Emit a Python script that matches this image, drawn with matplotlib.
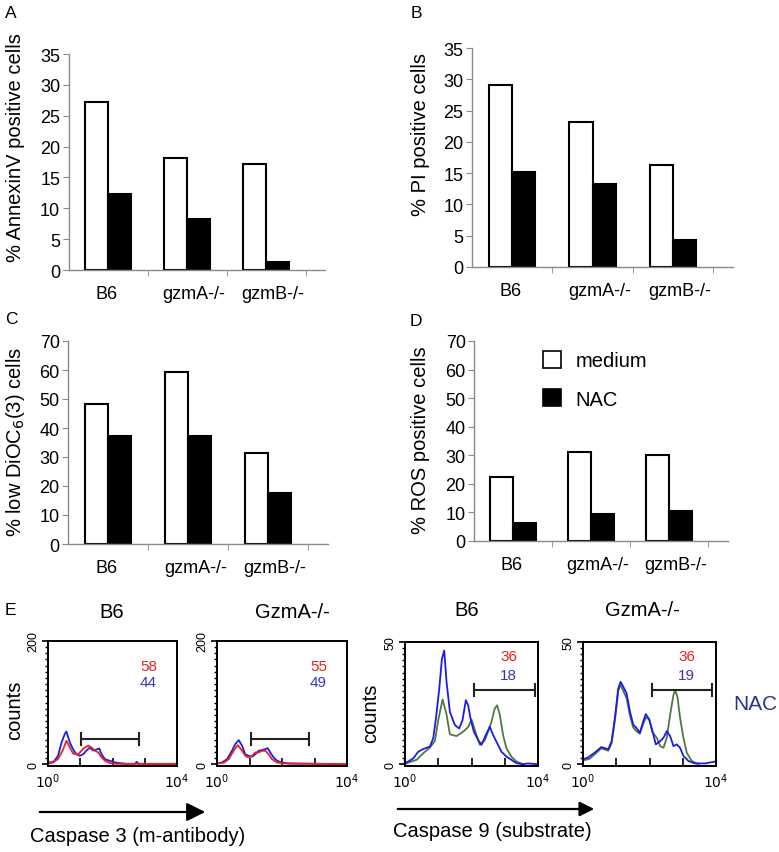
import numpy as np
import matplotlib
matplotlib.use("Agg")
import matplotlib.pyplot as plt
from matplotlib.patches import Patch
from matplotlib.ticker import MultipleLocator, LogLocator, NullFormatter

plt.rcParams["font.family"] = ["Liberation Sans", "DejaVu Sans"]

# ==========================
# Data: bar panels A-D
# ==========================
groups = ["B6", "gzmA-/-", "gzmB-/-"]

annexin_medium = [27.3, 18.1, 17.2]
annexin_nac = [12.3, 8.3, 1.25]

pi_medium = [29.1, 23.1, 16.3]
pi_nac = [15.2, 13.2, 4.3]

dioc_medium = [48.3, 59.4, 31.5]
dioc_nac = [37.3, 37.3, 17.6]

ros_medium = [22.3, 31.3, 30.2]
ros_nac = [6.3, 9.45, 10.4]

# ==========================
# Data: flow histograms (x in log10 decades, y in counts)
# ==========================
c3_b6_blue_x = [0.0, 0.16, 0.31, 0.42, 0.52, 0.57, 0.68, 0.78, 0.88, 0.99, 1.09, 1.19, 1.30,
                1.40, 1.51, 1.59, 1.66, 1.77, 1.92, 2.08, 2.23, 2.44, 2.70, 2.75, 2.81, 4.0]
c3_b6_blue_y = [1.6, 2.7, 13.6, 35, 49, 53, 35, 24, 16, 13.6, 16, 22, 27,
                22, 24, 25.5, 16, 8, 5.4, 2.7, 1.6, 0.5, 0.5, 3.8, 0.5, 0]
c3_b6_red_x = [0.0, 0.16, 0.31, 0.47, 0.57, 0.68, 0.78, 0.94, 1.04, 1.14, 1.25, 1.35,
               1.45, 1.56, 1.66, 1.77, 1.92, 2.13, 4.0]
c3_b6_red_y = [2.7, 3.8, 8, 24, 38, 27, 17, 16, 22, 27, 30, 27,
               22, 19, 11, 5.4, 1.6, 0.5, 0.5]

c3_ko_blue_x = [0.0, 0.15, 0.31, 0.46, 0.56, 0.67, 0.77, 0.87, 0.97, 1.08, 1.18, 1.28,
                1.38, 1.49, 1.56, 1.64, 1.74, 1.85, 2.0, 2.21, 4.0]
c3_ko_blue_y = [1.1, 2.7, 8.1, 21.7, 32.5, 39, 30, 16, 13.6, 12, 16, 21.7,
                22.8, 24.4, 26, 19, 11, 5.4, 2.7, 1.1, 0]
c3_ko_red_x = [0.0, 0.21, 0.36, 0.51, 0.64, 0.77, 0.87, 0.97, 1.08, 1.18, 1.28, 1.38,
               1.49, 1.59, 1.69, 1.85, 2.05, 4.0]
c3_ko_red_y = [1.1, 2.2, 8.1, 21.7, 31, 21.7, 13.6, 11, 13.6, 19, 19, 21.7,
               21.7, 16, 8.1, 2.7, 1.1, 0]

c9_b6_blue_x = [0.0, 0.10, 0.25, 0.40, 0.55, 0.75, 0.85, 0.93, 1.03, 1.11, 1.18, 1.25, 1.35,
                1.50, 1.63, 1.73, 1.83, 1.90, 1.97, 2.07, 2.20, 2.30, 2.43, 2.55, 2.65,
                2.75, 2.90, 3.05, 3.20, 3.35, 3.55, 3.70, 3.95]
c9_b6_blue_y = [0.4, 1.1, 2.4, 5.1, 6.2, 7.2, 10.6, 18.7, 30.9, 43, 46.5, 33.6, 21.4,
                16, 14.6, 18, 26.2, 24.1, 18.7, 13.3, 9.9, 7.9, 11.9, 15.3, 11.9,
                9.2, 5.1, 3.1, 1.8, 0.4, 0, 0.3, 0]
c9_b6_green_x = [0.05, 0.35, 0.55, 0.75, 0.90, 1.0, 1.13, 1.25, 1.35, 1.55, 1.75, 1.90, 2.0,
                 2.15, 2.25, 2.40, 2.50, 2.60, 2.70, 2.77, 2.85, 2.95, 3.05, 3.20, 3.35, 3.55]
c9_b6_green_y = [0.4, 1.8, 4.5, 6.8, 9.5, 18, 26.5, 20.3, 12.2, 11.5, 13.3, 15.2, 18.3,
                 11.9, 7.9, 9.8, 13.3, 17.3, 22.8, 24.1, 20.3, 11.9, 6.5, 3.1, 1.1, 0]

c9_ko_blue_x = [0.0, 0.15, 0.35, 0.55, 0.76, 0.86, 0.96, 1.06, 1.13, 1.21, 1.31, 1.41, 1.51,
                1.61, 1.71, 1.81, 1.89, 1.99, 2.09, 2.19, 2.32, 2.42, 2.52, 2.62, 2.72,
                2.82, 2.92, 3.02, 3.17, 3.37, 3.68, 3.98]
c9_ko_blue_y = [2.0, 2.7, 4.7, 7.0, 6.1, 9.4, 18.9, 31, 33.7, 31.7, 29, 21.6, 16.2,
                14.8, 12.8, 17.5, 20.5, 18.3, 13.5, 8.1, 9.4, 10.8, 13.5, 11.5, 7.4,
                8.1, 6.7, 3.4, 1.3, 0.3, 0.3, 1.1]
c9_ko_green_x = [0.0, 0.2, 0.35, 0.55, 0.76, 0.86, 0.96, 1.06, 1.13, 1.21, 1.31, 1.41, 1.51,
                 1.61, 1.71, 1.81, 1.89, 1.99, 2.09, 2.22, 2.32, 2.42, 2.52, 2.62, 2.72,
                 2.77, 2.84, 2.92, 3.02, 3.12, 3.27, 3.47]
c9_ko_green_y = [1.5, 2.2, 4.0, 6.5, 5.5, 8.5, 18, 30, 32.5, 30, 27, 20, 15,
                 13.5, 12.5, 16.5, 19, 18.5, 13, 10.8, 7.4, 6.7, 10.8, 20.2, 28.3,
                 30.3, 27.6, 18.9, 10.8, 4.7, 1.3, 0]

# gate markers (decades start, end, height in counts) and percentages
c3_gates = [(1.03, 2.83, 40.6), (1.05, 2.84, 40.6)]
c9_gates = [(2.07, 3.90, 30.2), (2.07, 3.88, 30.3)]
c3_pct = [("58", "44"), ("55", "49")]
c9_pct = [("36", "18"), ("36", "19")]

BLUE = "#1c1ce6"
RED = "#e8231f"
GREEN = "#4f7a3d"

# ==========================
# Figure layout helpers (pixel boxes)
# ==========================
W, H = 779, 853
fig = plt.figure(figsize=(W / 100, H / 100), dpi=100)


def box(left, top, right, bottom):
    return [left / W, 1 - bottom / H, (right - left) / W, (bottom - top) / H]


def ftext(x, y, s, **kw):
    fig.text(x / W, 1 - y / H, s, **kw)


def bar_panel(center0, spacing, top, bottom, medium, nac, ymax, step):
    left = center0 - 0.5 * spacing
    right = left + 3.25 * spacing
    ax = fig.add_axes(box(left, top, right, bottom))
    x = np.arange(len(groups))
    w = 0.29
    ax.bar(x - w / 2, medium, w, color="white", edgecolor="black", linewidth=1.5)
    ax.bar(x + w / 2, nac, w, color="black", edgecolor="black", linewidth=1.5)
    ax.set_xlim(-0.5, 2.75)
    ax.set_ylim(0, ymax)
    ax.set_yticks(np.arange(0, ymax + 1, step))
    ax.set_xticks([-0.02, 1.09, 2.08])
    ax.set_xticklabels(groups)
    ax.set_xticks([0.5, 1.5, 2.5], minor=True)
    for s in ["top", "right"]:
        ax.spines[s].set_visible(False)
    for s in ["left", "bottom"]:
        ax.spines[s].set_color("#8a8a8a")
        ax.spines[s].set_linewidth(1.0)
    ax.tick_params(axis="y", length=4, color="#8a8a8a", labelsize=13, pad=2)
    ax.tick_params(axis="x", which="major", length=0, labelsize=13, pad=11)
    ax.tick_params(axis="x", which="minor", length=4, color="#8a8a8a")
    return ax


# ==========================
# Panels A-D
# ==========================
bar_panel(108, 79, 55, 271, annexin_medium, annexin_nac, 35, 5)
bar_panel(512, 80.5, 49, 268, pi_medium, pi_nac, 35, 5)
bar_panel(108, 80, 342, 545, dioc_medium, dioc_nac, 70, 10)
axd = bar_panel(513, 78, 342, 542, ros_medium, ros_nac, 70, 10)

handles = [Patch(facecolor="white", edgecolor="black", linewidth=1.2),
           Patch(facecolor="black", edgecolor="black", linewidth=1.2)]
fig.legend(handles, ["medium", "NAC"], loc="upper left",
           bbox_to_anchor=(543 / W, 1 - 352 / H), frameon=False, fontsize=14.5,
           handlelength=0.9, handleheight=0.9, handletextpad=0.7,
           labelspacing=0.95, borderpad=0, borderaxespad=0)

ftext(16, 148, "% AnnexinV positive cells", rotation=90, ha="center", va="center", fontsize=14.5)
ftext(420, 135, "% PI positive cells", rotation=90, ha="center", va="center", fontsize=14.5)
ftext(16, 442, "% low DiOC$_6$(3) cells", rotation=90, ha="center", va="center", fontsize=14.5)
ftext(420, 440, "% ROS positive cells", rotation=90, ha="center", va="center", fontsize=14.5)

for lab, (px, py) in zip("ABCDE", [(5, 14), (411, 13), (5, 319), (410, 321), (5, 611)]):
    ftext(px, py, lab, ha="left", va="center", fontsize=12.5)

# ==========================
# Panel E: histograms
# ==========================
def hist_panel(rect, curves, ymax, gate, pct, top_color):
    ax = fig.add_axes(box(*rect))
    for xs, ys, col in curves:
        ax.plot(10 ** np.array(xs), ys, color=col, lw=1.3)
    g0, g1, gy = gate
    ax.plot([10 ** g0, 10 ** g1], [gy, gy], color="#222222", lw=1.5)
    cap = ymax * 0.05
    for g in (g0, g1):
        ax.plot([10 ** g, 10 ** g], [gy - cap, gy + cap], color="#222222", lw=1.5)
    ax.set_xscale("log")
    ax.set_xlim(1, 1e4)
    ax.set_ylim(-ymax * 0.015, ymax)
    ax.set_xticks([1, 10, 100, 1000, 1e4])
    ax.set_xticklabels(["$10^0$", "", "", "", "$10^4$"])
    ax.xaxis.set_minor_locator(LogLocator(base=10, subs=np.arange(2, 10)))
    ax.xaxis.set_minor_formatter(NullFormatter())
    ax.set_yticks([0, ymax])
    ax.set_yticklabels(["0", str(ymax)], rotation=90, va="center")
    ax.yaxis.set_minor_locator(MultipleLocator(ymax / 20))
    ax.tick_params(axis="x", which="major", direction="in", length=6, width=1.2, labelsize=10, pad=4)
    ax.tick_params(axis="x", which="minor", direction="in", length=4, width=1)
    ax.tick_params(axis="y", which="major", direction="out", length=4, width=1.2, labelsize=9, pad=2)
    ax.tick_params(axis="y", which="minor", direction="out", length=2.5, width=1)
    for s in ax.spines.values():
        s.set_linewidth(1.4)
    ax.text(0.78, 0.80 if top_color == "low" else 0.89, pct[0], transform=ax.transAxes,
            color=RED, fontsize=11, ha="center", va="center")
    ax.text(0.78, 0.67 if top_color == "low" else 0.73, pct[1], transform=ax.transAxes,
            color="#3737b3", fontsize=11, ha="center", va="center")
    return ax


hist_panel((48, 642, 177, 767),
           [(c3_b6_blue_x, c3_b6_blue_y, BLUE), (c3_b6_red_x, c3_b6_red_y, RED)],
           200, c3_gates[0], c3_pct[0], "low")
hist_panel((217, 642, 347, 767),
           [(c3_ko_blue_x, c3_ko_blue_y, BLUE), (c3_ko_red_x, c3_ko_red_y, RED)],
           200, c3_gates[1], c3_pct[1], "low")
hist_panel((405, 643, 538, 767),
           [(c9_b6_green_x, c9_b6_green_y, GREEN), (c9_b6_blue_x, c9_b6_blue_y, BLUE)],
           50, c9_gates[0], c9_pct[0], "high")
hist_panel((583, 643, 716, 767),
           [(c9_ko_green_x, c9_ko_green_y, GREEN), (c9_ko_blue_x, c9_ko_blue_y, BLUE)],
           50, c9_gates[1], c9_pct[1], "high")

ftext(112, 613, "B6", ha="center", va="center", fontsize=14.5)
ftext(292, 613, "GzmA-/-", ha="center", va="center", fontsize=14.5)
ftext(467, 611, "B6", ha="center", va="center", fontsize=14.5)
ftext(642, 611, "GzmA-/-", ha="center", va="center", fontsize=14.5)

ftext(15, 710, "counts", rotation=90, ha="center", va="center", fontsize=14.5)
ftext(371, 713, "counts", rotation=90, ha="center", va="center", fontsize=14.5)
ftext(755, 705, "NAC", ha="center", va="center", fontsize=15, color="#2e3192")

# axis arrows
fig.add_artist(matplotlib.patches.FancyArrowPatch(
    (37 / W, 1 - 813 / H), (208 / W, 1 - 813 / H), transform=fig.transFigure,
    arrowstyle="-|>", mutation_scale=28, lw=1.6, color="black"))
fig.add_artist(matplotlib.patches.FancyArrowPatch(
    (395 / W, 1 - 810 / H), (597 / W, 1 - 810 / H), transform=fig.transFigure,
    arrowstyle="-|>", mutation_scale=22, lw=1.6, color="black"))

ftext(30, 837, "Caspase 3 (m-antibody)", ha="left", va="center", fontsize=14.5)
ftext(393, 832, "Caspase 9 (substrate)", ha="left", va="center", fontsize=14.5)

fig.savefig("out.png", dpi=100)
